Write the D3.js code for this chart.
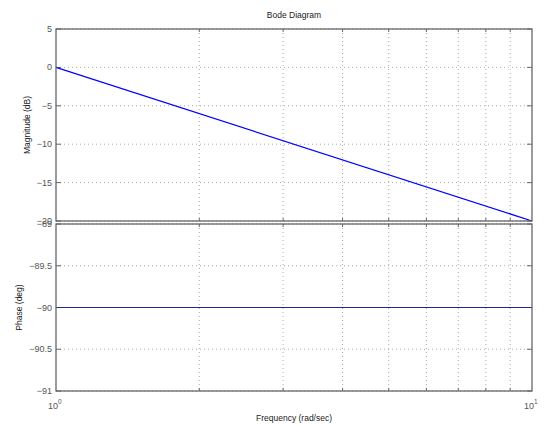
<!DOCTYPE html>
<html lang="en">
  <head>
    <meta charset="UTF-8" />
    <title>Bode Diagram</title>
    <script src="https://d3js.org/d3.v7.min.js"></script>
    <style>
      body { margin: 0; background: #fff; }
      svg { font-family: "Liberation Sans", Arial, sans-serif; }
      .grid line { stroke: #aaa; stroke-dasharray: 1, 3; }
      .tick-label { fill: #555; font-size: 9px; }
    </style>
  </head>
  <body>
    <svg width="549" height="426"></svg>
    <script>
      // data
      const freq = [1, 10];
      const magnitude = [0, -20];
      const phase = [-90, -90];
      const magTicks = [5, 0, -5, -10, -15, -20];
      const phaseTicks = [-89, -89.5, -90, -90.5, -91];
      const freqMajor = [1, 10];
      const freqMinor = [2, 3, 4, 5, 6, 7, 8, 9];

      const svg = d3.select("svg");
      const left = 56, right = 532;

      const x = d3.scaleLog().domain([1, 10]).range([left, right]);

      const panels = [
        { y: d3.scaleLinear().domain([-20, 5]).range([221, 29]), ticks: magTicks,
          values: magnitude, color: "#0000ff", label: "Magnitude (dB)", labelX: 30 },
        { y: d3.scaleLinear().domain([-91, -89]).range([391, 224]), ticks: phaseTicks,
          values: phase, color: "#22229a", label: "Phase (deg)", labelX: 22 }
      ];

      const fmt = (v) => String(v).replace("-", "\u2212");

      panels.forEach((p) => {
        const [y0, y1] = p.y.range(); // bottom, top
        const g = svg.append("g");

        // grid
        const grid = g.append("g").attr("class", "grid");
        grid.selectAll(".vx").data(freqMinor).enter().append("line")
          .attr("x1", (d) => x(d)).attr("x2", (d) => x(d))
          .attr("y1", y1).attr("y2", y0);
        grid.selectAll(".hy").data(p.ticks).enter().append("line")
          .attr("x1", left).attr("x2", right)
          .attr("y1", (d) => p.y(d)).attr("y2", (d) => p.y(d));

        // minor x ticks (inward)
        g.selectAll(".mt").data(freqMinor).enter().append("path")
          .attr("stroke", "#666")
          .attr("d", (d) => `M${x(d)},${y0}v-3M${x(d)},${y1}v3`);

        // y ticks (inward on both sides)
        g.selectAll(".yt").data(p.ticks).enter().append("path")
          .attr("stroke", "#666")
          .attr("d", (d) => `M${left},${p.y(d)}h5M${right},${p.y(d)}h-5`);

        // y tick labels
        g.selectAll(".yl").data(p.ticks).enter().append("text")
          .attr("class", "tick-label")
          .attr("x", left - 4)
          .attr("y", (d) => p.y(d) + 3)
          .attr("text-anchor", "end")
          .text((d) => fmt(d));

        // data line
        g.append("path")
          .datum(freq.map((f, i) => [f, p.values[i]]))
          .attr("fill", "none")
          .attr("stroke", p.color)
          .attr("stroke-width", 1.2)
          .attr("d", d3.line().x((d) => x(d[0])).y((d) => p.y(d[1])));

        // frame
        g.append("rect")
          .attr("x", left).attr("y", y1)
          .attr("width", right - left).attr("height", y0 - y1)
          .attr("fill", "none").attr("stroke", "#666").attr("stroke-width", 1.3);

        // y label
        svg.append("text")
          .attr("transform", `translate(${p.labelX},${(y0 + y1) / 2}) rotate(-90)`)
          .attr("text-anchor", "middle")
          .attr("font-size", 8.5)
          .attr("fill", "#222")
          .text(p.label);
      });

      // x tick labels 10^n
      const xl = svg.selectAll(".xl").data(freqMajor).enter().append("text")
        .attr("class", "tick-label")
        .attr("x", (d) => x(d) - 8)
        .attr("y", 409);
      xl.append("tspan").text("10");
      xl.append("tspan").attr("dy", -5).attr("font-size", 6.5)
        .text((d) => Math.round(Math.log10(d)));

      // title and x label
      svg.append("text")
        .attr("x", (left + right) / 2).attr("y", 18)
        .attr("text-anchor", "middle").attr("font-size", 8.5).attr("fill", "#222")
        .text("Bode Diagram");
      svg.append("text")
        .attr("x", (left + right) / 2).attr("y", 421)
        .attr("text-anchor", "middle").attr("font-size", 8.5).attr("fill", "#222")
        .text("Frequency  (rad/sec)");
    </script>
  </body>
</html>
